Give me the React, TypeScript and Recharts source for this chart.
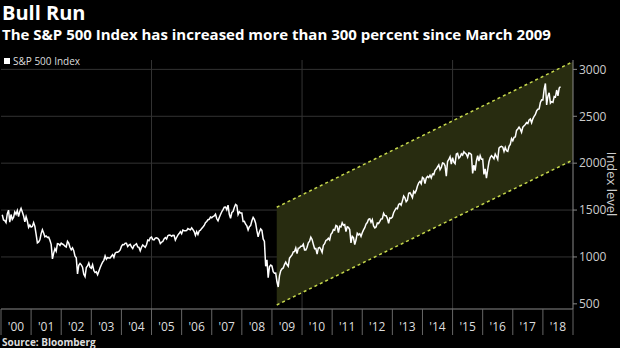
import React from "react";
import { ComposedChart, Line, Area, XAxis, YAxis, CartesianGrid } from "recharts";

// S&P 500, two readings a month (mid-month, month-end)
const spx2000 = [1450, 1394, 1387, 1366, 1460, 1499, 1370, 1452, 1400, 1421, 1480, 1455, 1495, 1431, 1484, 1518, 1480, 1437, 1374, 1429, 1383, 1315, 1340, 1320];
const spx2001 = [1326, 1366, 1326, 1240, 1150, 1160, 1183, 1249, 1290, 1256, 1215, 1224, 1208, 1211, 1178, 1134, 980, 1041, 1089, 1060, 1142, 1139, 1123, 1148];
const spx2002 = [1138, 1130, 1116, 1107, 1166, 1147, 1103, 1076, 1097, 1067, 1007, 990, 820, 912, 930, 916, 890, 815, 790, 886, 904, 936, 890, 880];
const spx2003 = [918, 856, 834, 841, 810, 848, 885, 917, 944, 964, 1011, 975, 993, 990, 990, 1008, 1025, 996, 1040, 1051, 1050, 1058, 1075, 1112];
const spx2004 = [1132, 1131, 1145, 1145, 1110, 1126, 1135, 1107, 1090, 1121, 1130, 1141, 1106, 1102, 1065, 1104, 1128, 1115, 1103, 1130, 1180, 1174, 1205, 1212];
const spx2005 = [1184, 1181, 1201, 1204, 1198, 1181, 1143, 1157, 1165, 1192, 1207, 1191, 1227, 1234, 1231, 1220, 1230, 1229, 1180, 1207, 1233, 1249, 1270, 1248];
const spx2006 = [1287, 1280, 1280, 1281, 1303, 1295, 1289, 1311, 1292, 1270, 1230, 1270, 1240, 1277, 1285, 1304, 1319, 1336, 1366, 1378, 1397, 1401, 1425, 1418];
const spx2007 = [1431, 1438, 1456, 1407, 1385, 1421, 1452, 1482, 1505, 1531, 1533, 1503, 1553, 1455, 1411, 1474, 1484, 1527, 1560, 1549, 1452, 1481, 1468, 1468];
const spx2008 = [1378, 1379, 1349, 1331, 1288, 1323, 1334, 1386, 1422, 1400, 1360, 1280, 1215, 1267, 1298, 1283, 1192, 1166, 900, 969, 780, 896, 913, 903];
const spx2009 = [843, 826, 827, 735, 680, 798, 852, 873, 883, 919, 944, 919, 900, 987, 1004, 1021, 1054, 1057, 1096, 1036, 1093, 1096, 1114, 1115];
const spx2010 = [1136, 1074, 1075, 1104, 1150, 1169, 1211, 1187, 1136, 1089, 1090, 1031, 1096, 1102, 1080, 1049, 1125, 1141, 1176, 1183, 1199, 1181, 1242, 1258];
const spx2011 = [1293, 1286, 1336, 1327, 1260, 1326, 1320, 1364, 1338, 1345, 1270, 1321, 1316, 1292, 1150, 1219, 1205, 1131, 1180, 1253, 1236, 1247, 1219, 1258];
const spx2012 = [1289, 1312, 1351, 1366, 1402, 1408, 1370, 1398, 1330, 1310, 1320, 1362, 1357, 1379, 1405, 1407, 1465, 1441, 1440, 1412, 1359, 1416, 1413, 1426];
const spx2013 = [1472, 1498, 1520, 1515, 1560, 1569, 1552, 1598, 1650, 1631, 1590, 1606, 1680, 1686, 1661, 1633, 1700, 1682, 1710, 1757, 1790, 1806, 1781, 1848];
const spx2014 = [1838, 1783, 1840, 1859, 1846, 1872, 1842, 1884, 1877, 1924, 1937, 1960, 1982, 1931, 1955, 2003, 1998, 1972, 1862, 2018, 2039, 2068, 1990, 2059];
const spx2015 = [2011, 1995, 2097, 2105, 2053, 2068, 2100, 2086, 2122, 2107, 2096, 2063, 2108, 2104, 2092, 1890, 1978, 1920, 2023, 2079, 2023, 2080, 2043, 2044];
const spx2016 = [1880, 1940, 1840, 1932, 2015, 2060, 2080, 2065, 2047, 2097, 2071, 2040, 2161, 2174, 2180, 2171, 2125, 2168, 2133, 2126, 2180, 2199, 2262, 2239];
const spx2017 = [2275, 2279, 2349, 2364, 2385, 2363, 2329, 2384, 2400, 2412, 2432, 2423, 2460, 2470, 2430, 2472, 2500, 2519, 2557, 2575, 2579, 2648, 2675, 2674];
const spx2018 = [2787, 2850, 2620, 2714, 2750, 2640, 2656, 2648, 2711, 2705, 2780, 2718, 2800, 2816];

const years = [2000, 2001, 2002, 2003, 2004, 2005, 2006, 2007, 2008, 2009, 2010, 2011, 2012, 2013, 2014, 2015, 2016, 2017, 2018];
const spxByYear = [spx2000, spx2001, spx2002, spx2003, spx2004, spx2005, spx2006, spx2007, spx2008, spx2009, spx2010, spx2011, spx2012, spx2013, spx2014, spx2015, spx2016, spx2017, spx2018];

// trend channel drawn from the March 2009 low
const channelDates = [2009.16, 2019];
const channelLow = [488, 2034];
const channelHigh = [1530, 3082];

const xTicks = [...years, 2019];
const yTicks = [500, 1000, 1500, 2000, 2500, 3000];

const priceData = years.flatMap((yr, k) =>
  spxByYear[k].map((v, i) => ({
    t: yr + (Math.floor(i / 2) + (i % 2 ? 1 : 0.5)) / 12,
    spx: v,
  }))
);

const channelData = channelDates.map((t, i) => ({
  t,
  low: channelLow[i],
  high: channelHigh[i],
  band: [channelLow[i], channelHigh[i]],
}));

const font = "'Open Sans', 'DejaVu Sans', sans-serif";

const YearTick = (props: any) => {
  const { x, y, payload } = props;
  const v = payload.value as number;
  return (
    <g>
      <line x1={x} x2={x} y1={y} y2={y + 26} stroke="#666" />
      {v < 2019 && (
        <text x={x + 15} y={y + 22} textAnchor="middle" fill="#ddd" fontSize={12} fontFamily={font}>
          {"'" + String(v).slice(2)}
        </text>
      )}
    </g>
  );
};

const App = () => {
  return (
    <div
      style={{
        position: "absolute",
        left: 0,
        top: 0,
        width: 620,
        height: 348,
        background: "#000",
        fontFamily: font,
        overflow: "hidden",
      }}
    >
      <div style={{ position: "absolute", left: 2, top: 2, color: "#fff", fontSize: 20, lineHeight: "22px", fontWeight: 700 }}>
        Bull Run
      </div>
      <div style={{ position: "absolute", left: 2, top: 26, color: "#fff", fontSize: 15, lineHeight: "16px", fontWeight: 700 }}>
        The S&amp;P 500 Index has increased more than 300 percent since March 2009
      </div>
      <div style={{ position: "absolute", left: 4, top: 54, color: "#ddd", fontSize: 10, display: "flex", alignItems: "center" }}>
        <span style={{ display: "inline-block", width: 6, height: 6, background: "#fff", marginRight: 3 }} />
        S&amp;P 500 Index
      </div>
      <ComposedChart width={620} height={348} margin={{ top: 60, right: 0, bottom: 0, left: 1 }}>
        <CartesianGrid
          stroke="#333"
          horizontalValues={[1000, 1500, 2000, 2500, 3000]}
          verticalValues={[2005, 2010, 2015]}
        />
        <XAxis
          dataKey="t"
          type="number"
          domain={[2000, 2019]}
          ticks={xTicks}
          interval={0}
          allowDataOverflow
          height={39}
          tickLine={false}
          tickSize={0}
          tickMargin={0}
          axisLine={{ stroke: "#888" }}
          tick={<YearTick />}
        />
        <YAxis
          orientation="right"
          type="number"
          domain={[445, 3100]}
          ticks={yTicks}
          interval={0}
          allowDataOverflow
          width={47}
          tickSize={4}
          tickMargin={2}
          axisLine={{ stroke: "#888" }}
          tickLine={{ stroke: "#888" }}
          tick={{ fill: "#ccc", fontSize: 12, fontFamily: font }}
        />
        <Area
          data={channelData}
          dataKey="band"
          type="linear"
          fill="#282c10"
          fillOpacity={1}
          stroke="none"
          isAnimationActive={false}
        />
        <Line data={channelData} dataKey="low" type="linear" stroke="#c6d84c" strokeWidth={1.5} strokeDasharray="3 3" dot={false} isAnimationActive={false} />
        <Line data={channelData} dataKey="high" type="linear" stroke="#c6d84c" strokeWidth={1.5} strokeDasharray="3 3" dot={false} isAnimationActive={false} />
        <Line data={priceData} dataKey="spx" type="linear" stroke="#fff" strokeWidth={1.5} dot={false} isAnimationActive={false} />
      </ComposedChart>
      <div
        style={{
          position: "absolute",
          left: 612,
          top: 184,
          color: "#ccc",
          fontSize: 13,
          lineHeight: "14px",
          whiteSpace: "nowrap",
          transform: "translate(-50%, -50%) rotate(90deg)",
        }}
      >
        Index level
      </div>
      <div style={{ position: "absolute", left: 2, top: 336, color: "#ddd", fontSize: 10, lineHeight: "12px", fontWeight: 700 }}>
        Source: Bloomberg
      </div>
    </div>
  );
};

export default App;
